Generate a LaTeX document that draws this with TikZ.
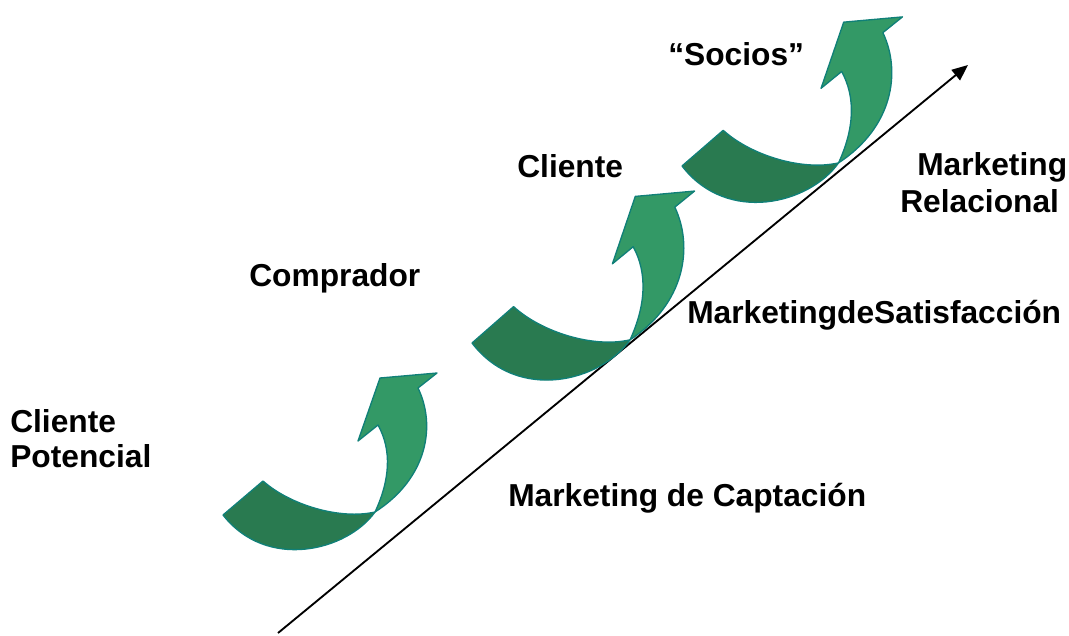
\documentclass[tikz,border=0pt]{standalone}
\usepackage{fontspec}
\setmainfont{Liberation Sans}
\usetikzlibrary{arrows.meta}
\definecolor{ribbonlight}{RGB}{51,153,102}
\definecolor{ribbondark}{RGB}{41,122,80}
\definecolor{ribbonedge}{RGB}{16,128,120}
\tikzset{
  label/.style={inner sep=0pt, font=\fontsize{23.8}{28}\selectfont\bfseries},
  ribbon/.style={draw=ribbonedge, line width=1pt, line join=round},
  curvup/.pic={
    % underside of the ribbon (tail)
    \path[ribbon, fill=ribbondark] (0,0) -- (40,-34)
      .. controls (67,-10) and (117,5) .. (152,-3)
      .. controls (124,36) and (44,56) .. cycle;
    % rising shaft with head
    \path[ribbon, fill=ribbonlight] (152,-3)
      .. controls (167,-35) and (169,-65) .. (155,-90)
      -- (135,-74) -- (157,-137) -- (214,-142) -- (195,-127)
      .. controls (213,-90) and (205,-37) .. cycle;
  }
}
\begin{document}
\begin{tikzpicture}[x=0.75pt, y=-0.75pt]
\useasboundingbox (0,0) rectangle (1069,635);

% growth axis
\coordinate (axisstart) at (278,633);
\coordinate (axisend) at (968,65);
\draw[line width=1.4pt, -{Triangle[length=12pt,width=10pt]}] (axisstart) -- (axisend);

% curved step arrows
\pic at (223,515) {curvup};
\pic[xscale=1.04, yscale=1.07] at (472,343) {curvup};
\pic[xscale=1.03, yscale=1.05] at (682,166) {curvup};

% stage labels
\node[label, anchor=base west] (cp1) at (10,432) {Cliente};
\node[label, anchor=base west] (cp2) at (10,467) {Potencial};
\node[label, anchor=base west] (comprador) at (249,286) {Comprador};
\node[label, anchor=base west] (cliente) at (517,177) {Cliente};
\node[label, anchor=base west] (socios) at (668,65) {“Socios”};

% marketing labels
\node[label, anchor=base west] (mcap) at (508,506) {Marketing de Captación};
\node[label, anchor=base west] (msat) at (687,323) {MarketingdeSatisfacción};
\node[label, anchor=base west] (mrel1) at (917,175) {Marketing};
\node[label, anchor=base west] (mrel2) at (900,212) {Relacional};
\end{tikzpicture}
\end{document}
